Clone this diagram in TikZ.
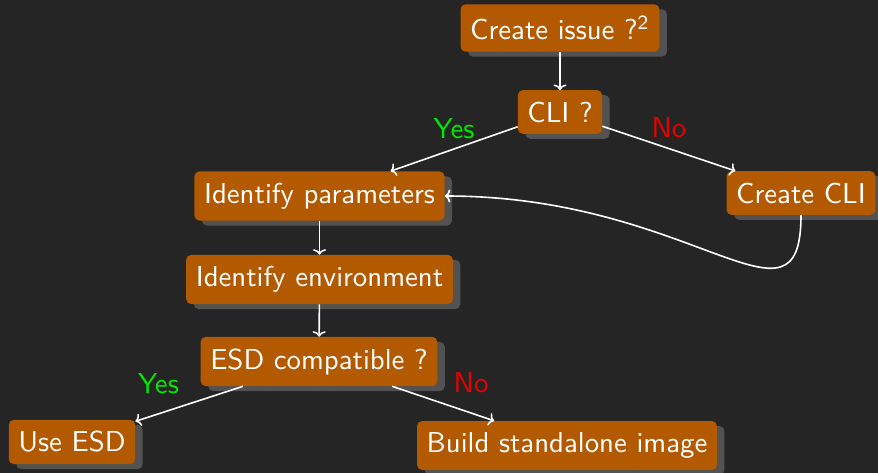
\documentclass[tikz,border=0pt]{standalone}
\usetikzlibrary{shadows,arrows.meta}

\definecolor{bgdark}{RGB}{37,37,37}
\definecolor{boxfill}{RGB}{179,89,0}
\definecolor{shadowgray}{RGB}{82,82,82}
\definecolor{yesgreen}{RGB}{0,235,0}
\definecolor{nored}{RGB}{235,0,0}

% 10pt sans design size, enlarged
\newcommand\bigsf[1]{\scalebox{2.88}{\sffamily\fontsize{10}{12}\selectfont #1}}

\tikzset{
  stepbox/.style={
    fill=boxfill, text=white, rounded corners=5pt,
    inner xsep=9.6pt, inner ysep=11.5pt,
    drop shadow={fill=shadowgray, opacity=1,
                 shadow xshift=7.5pt, shadow yshift=-5pt}
  },
  flow/.style={draw=white, line width=1.6pt,
    -{To[length=5.5pt,width=13pt]}},
  yeslabel/.style={text=yesgreen, inner sep=9.6pt},
  nolabel/.style={text=nored, inner sep=9.6pt}
}

\begin{document}
\begin{tikzpicture}[x=1pt,y=-1pt]
  % canvas
  \fill[bgdark] (0,0) rectangle (878,473);
  \useasboundingbox (0,0) rectangle (878,473);

  % steps
  \node[stepbox] (issue) at (560,28)    {\bigsf{Create issue ?\textsuperscript{2}}};
  \node[stepbox] (cli)   at (560,112)   {\bigsf{CLI ?}};
  \node[stepbox] (idp)   at (319.5,196) {\bigsf{Identify parameters}};
  \node[stepbox] (ccli)  at (801,193)   {\bigsf{Create CLI}};
  \node[stepbox] (ide)   at (319.5,279.5) {\bigsf{Identify environment}};
  \node[stepbox] (esd)   at (319,361.5) {\bigsf{ESD compatible ?}};
  \node[stepbox] (use)   at (72,442)    {\bigsf{Use ESD}};
  \node[stepbox] (build) at (567,445.5) {\bigsf{Build standalone image}};

  % connectors
  \draw[flow] (issue) -- (cli);
  \draw[flow] (cli) -- node[yeslabel, midway, above] {\bigsf{Yes}} (idp);
  \draw[flow] (cli) -- node[nolabel, midway, above] {\bigsf{No}} (ccli);
  \draw[flow] (ccli.south) .. controls +(0,130) and +(250,0) .. (idp.east);
  \draw[flow] (idp) -- (ide);
  \draw[flow] (ide) -- (esd);
  \draw[flow] (esd) -- node[yeslabel, midway, above left] {\bigsf{Yes}} (use);
  \draw[flow] (esd) -- node[nolabel, midway, above right] {\bigsf{No}} (build);
\end{tikzpicture}
\end{document}
